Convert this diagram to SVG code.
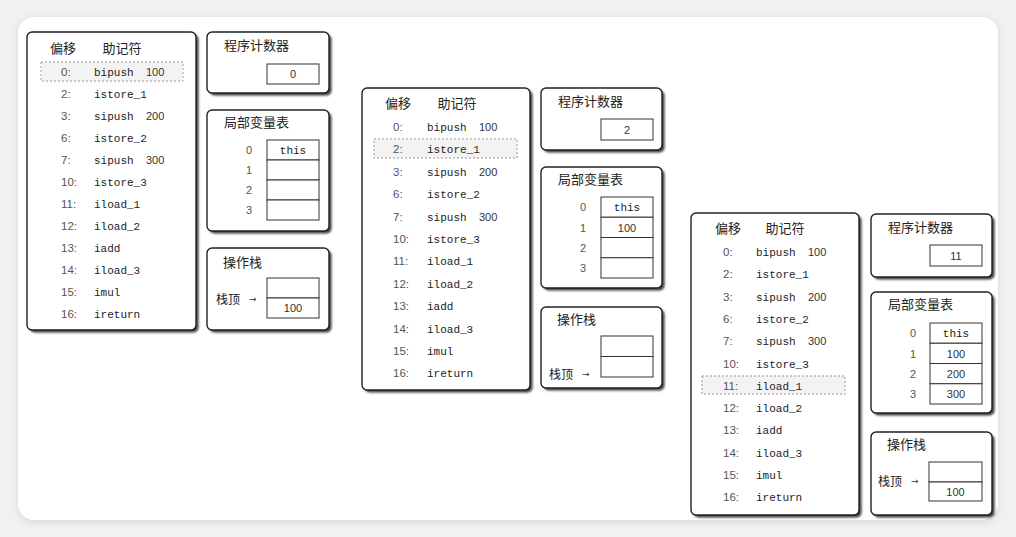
<svg xmlns="http://www.w3.org/2000/svg" width="1016" height="537" viewBox="0 0 1016 537">
<defs>
<filter id="cardsh" x="-5%" y="-5%" width="110%" height="110%"><feGaussianBlur stdDeviation="4"/></filter>
<filter id="boxsh" x="-10%" y="-10%" width="120%" height="120%"><feGaussianBlur stdDeviation="0.9"/></filter>
<style>
.bx{fill:#fff;stroke:#222;stroke-width:1.4}
.sh{fill:#3a3a3a;filter:url(#boxsh)}
.hl{fill:#f3f3f3;stroke:#999;stroke-width:1;stroke-dasharray:2 2}
.cell{fill:#fff;stroke:#333;stroke-width:1}
.cn{font-family:"Noto Sans CJK SC","Noto Sans",sans-serif;font-size:13px;fill:#222}
.off{font-family:"Liberation Sans",sans-serif;font-size:11.5px;fill:#555}
.mn{font-family:"Liberation Mono",monospace;font-size:11px;fill:#222}
.num{font-family:"Liberation Sans",sans-serif;font-size:11px;fill:#333}
.v{font-family:"Liberation Sans",sans-serif;font-size:11px;fill:#333;text-anchor:middle}
.vm{font-family:"Liberation Mono",monospace;font-size:11px;fill:#222;text-anchor:middle}
.idx{font-family:"Liberation Sans",sans-serif;font-size:11px;fill:#555;text-anchor:middle}
.mid{text-anchor:middle}
.top{font-family:"Noto Sans CJK SC","Noto Sans",sans-serif;font-size:12px;fill:#222}
.arr{font-family:"DejaVu Sans",sans-serif;font-size:9px;fill:#333}
</style>
</defs>
<rect width="1016" height="537" fill="#f1f1f1"/>
<rect x="18" y="19" width="980" height="503" rx="16" fill="#d8d8d8" filter="url(#cardsh)"/>
<rect x="18" y="17" width="980" height="503" rx="16" fill="#fff"/>

<!-- Panel 1 -->
<g id="p1-code">
<rect class="sh" x="29.5" y="34.5" width="169" height="298" rx="5"/>
<rect class="bx" x="27" y="32" width="169" height="298" rx="5"/>
<rect class="hl" x="41" y="62" width="142" height="19"/>
<text class="cn mid" x="63" y="52.5">偏移</text>
<text class="cn mid" x="122" y="52.5">助记符</text>
<g class="off">
<text x="61" y="76">0:</text><text x="61" y="98">2:</text><text x="61" y="120">3:</text><text x="61" y="142">6:</text><text x="61" y="164">7:</text><text x="61" y="186">10:</text><text x="61" y="208">11:</text><text x="61" y="230">12:</text><text x="61" y="252">13:</text><text x="61" y="274">14:</text><text x="61" y="296">15:</text><text x="61" y="318">16:</text>
</g>
<g class="mn">
<text x="94" y="76">bipush</text><text x="94" y="98">istore_1</text><text x="94" y="120">sipush</text><text x="94" y="142">istore_2</text><text x="94" y="164">sipush</text><text x="94" y="186">istore_3</text><text x="94" y="208">iload_1</text><text x="94" y="230">iload_2</text><text x="94" y="252">iadd</text><text x="94" y="274">iload_3</text><text x="94" y="296">imul</text><text x="94" y="318">ireturn</text>
</g>
<text class="num" x="146" y="76">100</text><text class="num" x="146" y="120">200</text><text class="num" x="146" y="164">300</text>
</g>
<g id="p1-pc">
<rect class="sh" x="209.5" y="34.5" width="122" height="61" rx="5"/>
<rect class="bx" x="207" y="32" width="122" height="61" rx="5"/>
<text class="cn" x="224" y="49.5">程序计数器</text>
<rect class="cell" x="267" y="64" width="52" height="20"/>
<text class="v" x="293" y="78">0</text>
</g>
<g id="p1-lvt">
<rect class="sh" x="209.5" y="112.5" width="122" height="121" rx="5"/>
<rect class="bx" x="207" y="110" width="122" height="121" rx="5"/>
<text class="cn" x="224" y="126.5">局部变量表</text>
<rect class="cell" x="267" y="140" width="52" height="20"/><rect class="cell" x="267" y="160" width="52" height="20"/><rect class="cell" x="267" y="180" width="52" height="20"/><rect class="cell" x="267" y="200" width="52" height="20"/>
<text class="idx" x="249" y="154">0</text><text class="idx" x="249" y="174">1</text><text class="idx" x="249" y="194">2</text><text class="idx" x="249" y="214">3</text>
<text class="vm" x="293" y="154">this</text>
</g>
<g id="p1-stack">
<rect class="sh" x="209.5" y="250.5" width="122" height="82" rx="5"/>
<rect class="bx" x="207" y="248" width="122" height="82" rx="5"/>
<text class="cn" x="223" y="266.5">操作栈</text>
<rect class="cell" x="267" y="278" width="52" height="20"/><rect class="cell" x="267" y="298" width="52" height="20"/>
<text class="v" x="293" y="312">100</text>
<text class="top" x="216" y="304">栈顶</text><text class="arr" x="249" y="302">→</text>
</g>

<!-- Panel 2 -->
<g id="p2-code">
<rect class="sh" x="364.5" y="90.5" width="168" height="302" rx="5"/>
<rect class="bx" x="362" y="88" width="168" height="302" rx="5"/>
<rect class="hl" x="374" y="139" width="143" height="19"/>
<text class="cn mid" x="398" y="107.5">偏移</text>
<text class="cn mid" x="457" y="107.5">助记符</text>
<g class="off">
<text x="393" y="131">0:</text><text x="393" y="153.4">2:</text><text x="393" y="175.8">3:</text><text x="393" y="198.2">6:</text><text x="393" y="220.6">7:</text><text x="393" y="243">10:</text><text x="393" y="265.4">11:</text><text x="393" y="287.8">12:</text><text x="393" y="310.2">13:</text><text x="393" y="332.6">14:</text><text x="393" y="355">15:</text><text x="393" y="377.4">16:</text>
</g>
<g class="mn">
<text x="427" y="131">bipush</text><text x="427" y="153.4">istore_1</text><text x="427" y="175.8">sipush</text><text x="427" y="198.2">istore_2</text><text x="427" y="220.6">sipush</text><text x="427" y="243">istore_3</text><text x="427" y="265.4">iload_1</text><text x="427" y="287.8">iload_2</text><text x="427" y="310.2">iadd</text><text x="427" y="332.6">iload_3</text><text x="427" y="355">imul</text><text x="427" y="377.4">ireturn</text>
</g>
<text class="num" x="479" y="131">100</text><text class="num" x="479" y="175.8">200</text><text class="num" x="479" y="220.6">300</text>
</g>
<g id="p2-pc">
<rect class="sh" x="543.5" y="90.5" width="121" height="62" rx="5"/>
<rect class="bx" x="541" y="88" width="121" height="62" rx="5"/>
<text class="cn" x="558" y="105.5">程序计数器</text>
<rect class="cell" x="601" y="119" width="52" height="21"/>
<text class="v" x="627" y="133.5">2</text>
</g>
<g id="p2-lvt">
<rect class="sh" x="543.5" y="169.5" width="121" height="121" rx="5"/>
<rect class="bx" x="541" y="167" width="121" height="121" rx="5"/>
<text class="cn" x="558" y="183.5">局部变量表</text>
<rect class="cell" x="601" y="197" width="52" height="20.25"/><rect class="cell" x="601" y="217.25" width="52" height="20.25"/><rect class="cell" x="601" y="237.5" width="52" height="20.25"/><rect class="cell" x="601" y="257.75" width="52" height="20.25"/>
<text class="idx" x="583" y="211">0</text><text class="idx" x="583" y="231.5">1</text><text class="idx" x="583" y="251.5">2</text><text class="idx" x="583" y="272">3</text>
<text class="vm" x="627" y="211">this</text><text class="v" x="627" y="231.5">100</text>
</g>
<g id="p2-stack">
<rect class="sh" x="543.5" y="309.5" width="121" height="81" rx="5"/>
<rect class="bx" x="541" y="307" width="121" height="81" rx="5"/>
<text class="cn" x="557" y="323.5">操作栈</text>
<rect class="cell" x="601" y="336" width="52" height="20.5"/><rect class="cell" x="601" y="356.5" width="52" height="20.5"/>
<text class="top" x="549" y="379">栈顶</text><text class="arr" x="582" y="377">→</text>
</g>

<!-- Panel 3 -->
<g id="p3-code">
<rect class="sh" x="693.5" y="215.5" width="168" height="302" rx="5"/>
<rect class="bx" x="691" y="213" width="168" height="302" rx="5"/>
<rect class="hl" x="702" y="376" width="143" height="18"/>
<text class="cn mid" x="728" y="232.5">偏移</text>
<text class="cn mid" x="785" y="232.5">助记符</text>
<g class="off">
<text x="723" y="256">0:</text><text x="723" y="278.3">2:</text><text x="723" y="300.6">3:</text><text x="723" y="322.9">6:</text><text x="723" y="345.2">7:</text><text x="723" y="367.5">10:</text><text x="723" y="389.8">11:</text><text x="723" y="412.1">12:</text><text x="723" y="434.4">13:</text><text x="723" y="456.7">14:</text><text x="723" y="479">15:</text><text x="723" y="501.3">16:</text>
</g>
<g class="mn">
<text x="756" y="256">bipush</text><text x="756" y="278.3">istore_1</text><text x="756" y="300.6">sipush</text><text x="756" y="322.9">istore_2</text><text x="756" y="345.2">sipush</text><text x="756" y="367.5">istore_3</text><text x="756" y="389.8">iload_1</text><text x="756" y="412.1">iload_2</text><text x="756" y="434.4">iadd</text><text x="756" y="456.7">iload_3</text><text x="756" y="479">imul</text><text x="756" y="501.3">ireturn</text>
</g>
<text class="num" x="808" y="256">100</text><text class="num" x="808" y="300.6">200</text><text class="num" x="808" y="345.2">300</text>
</g>
<g id="p3-pc">
<rect class="sh" x="873.5" y="216.5" width="121" height="63" rx="5"/>
<rect class="bx" x="871" y="214" width="121" height="63" rx="5"/>
<text class="cn" x="888" y="231.5">程序计数器</text>
<rect class="cell" x="930" y="245" width="52" height="21"/>
<text class="v" x="956" y="259.5">11</text>
</g>
<g id="p3-lvt">
<rect class="sh" x="873.5" y="294.5" width="121" height="121" rx="5"/>
<rect class="bx" x="871" y="292" width="121" height="121" rx="5"/>
<text class="cn" x="888" y="308.5">局部变量表</text>
<rect class="cell" x="930" y="323" width="52" height="20.25"/><rect class="cell" x="930" y="343.25" width="52" height="20.25"/><rect class="cell" x="930" y="363.5" width="52" height="20.25"/><rect class="cell" x="930" y="383.75" width="52" height="20.25"/>
<text class="idx" x="913" y="337">0</text><text class="idx" x="913" y="357.5">1</text><text class="idx" x="913" y="377.5">2</text><text class="idx" x="913" y="398">3</text>
<text class="vm" x="956" y="337">this</text><text class="v" x="956" y="357.5">100</text><text class="v" x="956" y="377.5">200</text><text class="v" x="956" y="398">300</text>
</g>
<g id="p3-stack">
<rect class="sh" x="873.5" y="434.5" width="121" height="83" rx="5"/>
<rect class="bx" x="871" y="432" width="121" height="83" rx="5"/>
<text class="cn" x="887" y="448.5">操作栈</text>
<rect class="cell" x="929" y="462" width="53" height="20"/><rect class="cell" x="929" y="482" width="53" height="19"/>
<text class="v" x="955.5" y="496">100</text>
<text class="top" x="878" y="486">栈顶</text><text class="arr" x="911" y="484">→</text>
</g>
</svg>
